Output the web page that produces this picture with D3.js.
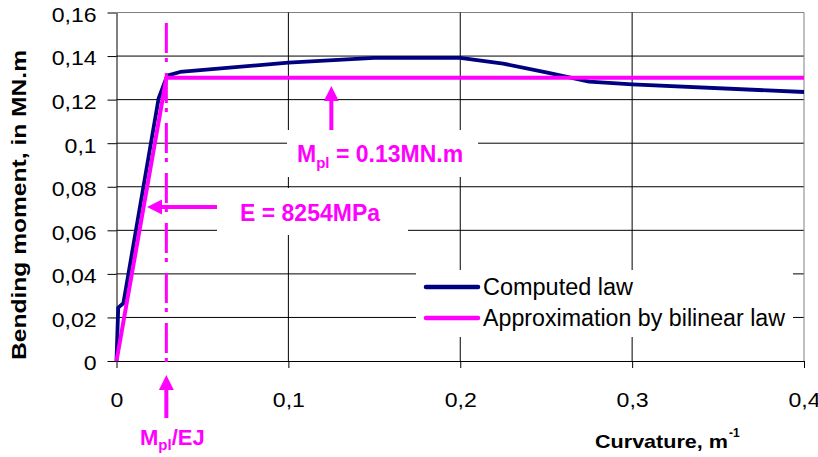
<!DOCTYPE html>
<html>
<head>
<meta charset="utf-8">
<script src="https://cdn.jsdelivr.net/npm/d3@7"></script>
<style>
  body { margin: 0; background: #fff; }
  text { font-family: "Liberation Sans", Arial, sans-serif; }
</style>
</head>
<body>
<div id="chart"></div>
<script>
// Chart data
const curvature = [0, 0.001, 0.004, 0.0245, 0.0295, 0.037, 0.1, 0.15, 0.2, 0.225, 0.25, 0.275, 0.3, 0.4];
const moment    = [0, 0.0245, 0.0265, 0.1205, 0.131, 0.1327, 0.137, 0.1392, 0.1392, 0.1365, 0.1325, 0.1283, 0.127, 0.1235];
const bilinCurvature = [0, 0.029, 0.4];
const bilinMoment    = [0, 0.13, 0.13];
const xTicks = [0, 0.1, 0.2, 0.3, 0.4];
const yTicks = [0, 0.02, 0.04, 0.06, 0.08, 0.1, 0.12, 0.14, 0.16];
const seriesNames = ["Computed law", "Approximation by bilinear law"];
const seriesColors = ["#000080", "#ff00ff"];

const W = 818, H = 457;
const fmt = d => String(d).replace(".", ",");

const svg = d3.select("#chart")
    .append("svg")
    .attr("width", W)
    .attr("height", H);

const x = d3.scaleLinear().domain([0, 0.4]).range([116.5, 804]);
const y = d3.scaleLinear().domain([0, 0.16]).range([361, 12.5]);

// Grid lines
svg.selectAll("line.hgrid")
    .data(yTicks.slice(1))
    .enter()
    .append("line")
    .attr("x1", x(0)).attr("x2", x(0.4))
    .attr("y1", d => y(d)).attr("y2", d => y(d))
    .style("stroke", d => d === 0.16 ? "#808080" : "#000")
    .style("stroke-width", 1);

svg.selectAll("line.vgrid")
    .data(xTicks.slice(1))
    .enter()
    .append("line")
    .attr("x1", d => x(d)).attr("x2", d => x(d))
    .attr("y1", y(0.16)).attr("y2", y(0))
    .style("stroke", d => d === 0.4 ? "#808080" : "#000")
    .style("stroke-width", 1);

// White boxes behind the labels and legend
const boxes = [[217, 188, 191, 47], [287, 130, 191, 47], [416, 270, 377, 67]];
svg.selectAll("rect.box")
    .data(boxes)
    .enter()
    .append("rect")
    .attr("x", d => d[0]).attr("y", d => d[1])
    .attr("width", d => d[2]).attr("height", d => d[3])
    .attr("fill", "#fff");

// Axes
const yAxis = svg.append("g")
    .attr("transform", `translate(${x(0)},0)`)
    .call(d3.axisLeft(y).tickValues(yTicks).tickFormat(fmt).tickSize(9).tickSizeOuter(0));
yAxis.selectAll("text")
    .attr("x", -18)
    .attr("dy", "0.42em")
    .attr("transform", "scale(1.1,1)")
    .style("font-size", "21px")
    .style("fill", "#000");

const xAxis = svg.append("g")
    .attr("transform", `translate(0,${y(0)})`)
    .call(d3.axisBottom(x).tickValues(xTicks).tickFormat(fmt).tickSize(7).tickSizeOuter(0));
xAxis.selectAll("text")
    .attr("y", 31)
    .attr("transform", "scale(1.1,1)")
    .style("font-size", "21px")
    .style("fill", "#000");
svg.selectAll(".domain").style("stroke", "#000");
svg.selectAll(".tick line").style("stroke", "#000");

// Data lines
const line = d3.line().x(d => x(d[0])).y(d => y(d[1]));
svg.append("path")
    .datum(curvature.map((c, i) => [c, moment[i]]))
    .attr("d", line)
    .attr("fill", "none")
    .attr("stroke", seriesColors[0])
    .attr("stroke-width", 3.8)
    .attr("stroke-linejoin", "round");
svg.append("path")
    .datum(bilinCurvature.map((c, i) => [c, bilinMoment[i]]))
    .attr("d", line)
    .attr("fill", "none")
    .attr("stroke", seriesColors[1])
    .attr("stroke-width", 4)
    .attr("stroke-linejoin", "round");

// Vertical dash-dot line at Mpl/EJ
const kx = x(bilinCurvature[1]);
svg.append("line")
    .attr("x1", kx).attr("x2", kx)
    .attr("y1", 23).attr("y2", 373)
    .style("stroke", "#ff00ff")
    .style("stroke-width", 3)
    .style("stroke-dasharray", "30,5,4,11");

// Arrows
function arrow(x1, y1, x2, y2) {
    const a = Math.atan2(y2 - y1, x2 - x1), len = 15, hw = 7.5;
    const bx = x2 - len * Math.cos(a), by = y2 - len * Math.sin(a);
    svg.append("line")
        .attr("x1", x1).attr("y1", y1).attr("x2", bx).attr("y2", by)
        .style("stroke", "#ff00ff").style("stroke-width", 4);
    svg.append("path")
        .attr("d", `M${x2},${y2}L${bx - hw * Math.sin(a)},${by + hw * Math.cos(a)}L${bx + hw * Math.sin(a)},${by - hw * Math.cos(a)}Z`)
        .attr("fill", "#ff00ff");
}
arrow(217, 207, 147, 207);
arrow(x(0.125), 130, x(0.125), 86);
arrow(kx, 418, kx, 375);

// Annotations
svg.append("text")
    .attr("x", 240).attr("y", 221)
    .style("font-size", "23px").style("font-weight", "bold").style("fill", "#ff00ff")
    .text("E = 8254MPa");

const mpl = svg.append("text")
    .attr("x", 297).attr("y", 162)
    .style("font-size", "23px").style("font-weight", "bold").style("fill", "#ff00ff");
mpl.append("tspan").text("M");
mpl.append("tspan").attr("dy", 6).style("font-size", "15px").text("pl");
mpl.append("tspan").attr("dy", -6).text(" = 0.13MN.m");

const ej = svg.append("text")
    .attr("x", 140).attr("y", 445)
    .style("font-size", "22px").style("font-weight", "bold").style("fill", "#ff00ff");
ej.append("tspan").text("M");
ej.append("tspan").attr("dy", 5).style("font-size", "15px").text("pl");
ej.append("tspan").attr("dy", -5).text("/EJ");

// Legend
const legendWidths = [150, 302];
const legend = svg.selectAll("g.legend")
    .data(seriesNames)
    .enter()
    .append("g")
    .attr("transform", (d, i) => `translate(0,${287 + i * 31})`);
legend.append("line")
    .attr("x1", 426).attr("x2", 478)
    .attr("stroke", (d, i) => seriesColors[i])
    .attr("stroke-width", 4.5)
    .attr("stroke-linecap", "round");
legend.append("text")
    .attr("x", 483).attr("y", 8)
    .attr("textLength", (d, i) => legendWidths[i])
    .attr("lengthAdjust", "spacingAndGlyphs")
    .style("font-size", "23px")
    .style("fill", "#000")
    .text(d => d);

// Axis titles
svg.append("text")
    .attr("transform", "translate(26,205) rotate(-90)")
    .attr("text-anchor", "middle")
    .attr("textLength", 310)
    .attr("lengthAdjust", "spacingAndGlyphs")
    .style("font-size", "20px").style("font-weight", "bold")
    .text("Bending moment, in MN.m");

svg.append("text")
    .attr("x", 595).attr("y", 448)
    .attr("textLength", 133)
    .attr("lengthAdjust", "spacingAndGlyphs")
    .style("font-size", "19px").style("font-weight", "bold")
    .text("Curvature, m");
svg.append("text")
    .attr("x", 729).attr("y", 437)
    .style("font-size", "12px").style("font-weight", "bold")
    .text("-1");
</script>
</body>
</html>
